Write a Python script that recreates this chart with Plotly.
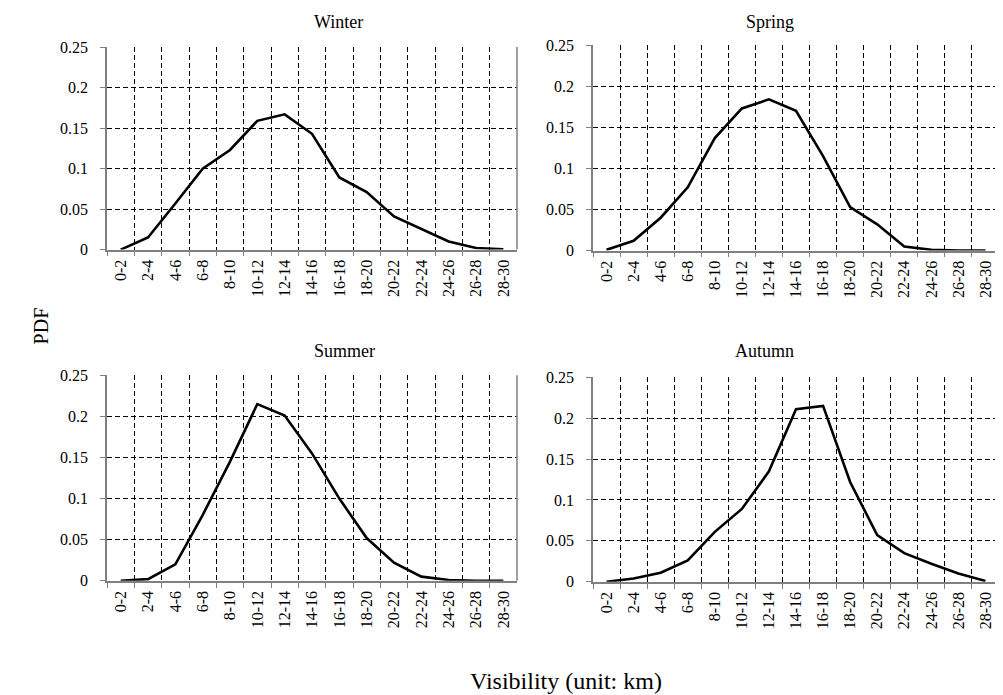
import plotly.graph_objects as go

categories = ["0-2", "2-4", "4-6", "6-8", "8-10", "10-12", "12-14", "14-16",
              "16-18", "18-20", "20-22", "22-24", "24-26", "26-28", "28-30"]
winter = [0.0, 0.015, 0.057, 0.100, 0.123, 0.159, 0.167, 0.143, 0.089, 0.071,
          0.041, 0.025, 0.010, 0.002, 0.0004]
spring = [0.001, 0.012, 0.040, 0.077, 0.137, 0.173, 0.184, 0.170, 0.115, 0.053,
          0.032, 0.005, 0.001, 0.0, 0.0]
summer = [0.0, 0.002, 0.020, 0.080, 0.145, 0.215, 0.201, 0.155, 0.100, 0.052,
          0.022, 0.005, 0.001, 0.0, 0.0]
autumn = [0.0, 0.004, 0.011, 0.026, 0.061, 0.089, 0.135, 0.211, 0.215, 0.122,
          0.057, 0.035, 0.022, 0.010, 0.001]
titles = ["Winter", "Spring", "Summer", "Autumn"]
series = [winter, spring, summer, autumn]
ytick_vals = [0, 0.05, 0.1, 0.15, 0.2, 0.25]
ytick_text = ["0", "0.05", "0.1", "0.15", "0.2", "0.25"]

# mapping from target picture pixels to figure coordinates
OFF_X = 8
OFF_Y, SCALE_Y = 14.8, 0.978
W, H = 1003 - OFF_X, 695
# pixel boxes in picture coords (left, right, top, bottom)
boxes = [(107, 517, 46, 249), (593, 999, 44, 250),
         (107, 517, 375, 581), (593, 999, 377, 582)]
title_y = [21, 21, 351, 351]


def px(x):
    return (x - OFF_X) / W


def py(y):
    return 1 - ((y - OFF_Y) / SCALE_Y) / H


FONT = "Liberation Serif"
fig = go.Figure()
for i, (vals, title, box) in enumerate(zip(series, titles, boxes)):
    n = "" if i == 0 else str(i + 1)
    l, r, t, b = box
    fig.add_trace(go.Scatter(x=categories, y=vals, mode="lines",
                             line=dict(color="black", width=2.6),
                             xaxis="x" + n, yaxis="y" + n, showlegend=False))
    fig.update_layout(**{
        "xaxis" + n: dict(domain=[px(l), px(r)], anchor="y" + n,
                          type="category", range=[-0.5, 14.5],
                          tickson="boundaries", ticks="outside", ticklen=5,
                          tickcolor="#808080", tickangle=-90,
                          ticklabelstandoff=2,
                          showline=True, linecolor="#808080", linewidth=1.5,
                          showgrid=True, gridcolor="black", gridwidth=1,
                          griddash="5px,3px", zeroline=False,
                          tickfont=dict(family=FONT, size=16, color="black")),
        "yaxis" + n: dict(domain=[py(b), py(t)], anchor="x" + n,
                          range=[0, 0.25], tickvals=ytick_vals,
                          ticktext=ytick_text, ticks="outside", ticklen=5,
                          tickcolor="#808080", ticklabelstandoff=9,
                          showline=True, linecolor="#808080", linewidth=1.5,
                          showgrid=True, gridcolor="black", gridwidth=1,
                          griddash="5px,3px", zeroline=False,
                          tickfont=dict(family=FONT, size=16, color="black")),
    })
    fig.add_shape(type="line", xref="x" + n + " domain", yref="y" + n + " domain",
                  x0=1, x1=1, y0=0, y1=1, line=dict(color="#808080", width=1.5))
    fig.add_annotation(text=title, x=px((l + r) / 2), y=py(title_y[i]),
                       xref="paper", yref="paper", showarrow=False,
                       font=dict(family=FONT, size=18, color="black"),
                       yanchor="middle")

fig.add_annotation(text="PDF", x=px(28), y=py(326), xref="paper", yref="paper",
                   showarrow=False, textangle=-90, yanchor="middle",
                   font=dict(family=FONT, size=20, color="black"))
fig.add_annotation(text="Visibility (unit: km)", x=px(566), y=py(681),
                   xref="paper", yref="paper", showarrow=False,
                   yanchor="middle",
                   font=dict(family=FONT, size=24, color="black"))

fig.update_layout(width=W, height=H, margin=dict(l=0, r=0, t=0, b=0),
                  plot_bgcolor="white", paper_bgcolor="white")
fig.write_html("out.html")
